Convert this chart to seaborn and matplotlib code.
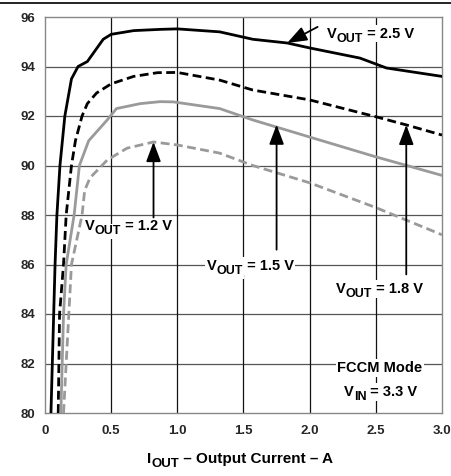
import seaborn as sns
import matplotlib.pyplot as plt
from matplotlib.lines import Line2D

# efficiency vs output current
i_25 = [0.045, 0.076, 0.09, 0.113, 0.15, 0.2, 0.25, 0.32, 0.44, 0.5, 0.67, 0.87, 1.0, 1.32, 1.57, 1.83, 2.0, 2.38, 2.58, 3.0]
eff_25 = [80, 86, 88, 90, 92, 93.5, 94.0, 94.2, 95.1, 95.3, 95.45, 95.5, 95.52, 95.4, 95.1, 94.95, 94.75, 94.34, 93.94, 93.6]

i_18 = [0.1, 0.11, 0.14, 0.16, 0.2, 0.23, 0.28, 0.32, 0.39, 0.5, 0.67, 0.85, 1.0, 1.32, 1.57, 2.0, 2.5, 2.73, 3.0]
eff_18 = [80, 84, 86, 88, 90, 91, 92, 92.5, 92.93, 93.3, 93.6, 93.75, 93.76, 93.45, 93.05, 92.65, 91.97, 91.64, 91.23]

i_15 = [0.12, 0.14, 0.16, 0.22, 0.26, 0.33, 0.39, 0.47, 0.54, 0.72, 0.87, 0.97, 1.32, 1.57, 2.0, 2.5, 3.0]
eff_15 = [80, 84, 86, 88, 90, 91, 91.36, 91.84, 92.3, 92.5, 92.58, 92.57, 92.3, 91.84, 91.15, 90.35, 89.6]

i_12 = [0.14, 0.2, 0.28, 0.3, 0.34, 0.47, 0.62, 0.82, 1.0, 1.32, 1.57, 2.0, 2.5, 3.0]
eff_12 = [80, 86, 88, 89, 89.5, 90.22, 90.7, 90.95, 90.83, 90.5, 90.0, 89.3, 88.3, 87.2]

x_ticks = [0, 0.5, 1.0, 1.5, 2.0, 2.5, 3.0]
x_labels = ['0', '0.5', '1.0', '1.5', '2.0', '2.5', '3.0']
y_ticks = [80, 82, 84, 86, 88, 90, 92, 94, 96]

sns.set_style('white')
plt.rcParams['font.family'] = ['Liberation Sans', 'DejaVu Sans']
plt.rcParams['font.weight'] = 'bold'

fig = plt.figure(figsize=(4.51, 4.76), dpi=100)
ax = fig.add_axes([45 / 451, 1 - 413 / 476, 397 / 451, 396 / 476])

gray = '#9a9a9a'
dash = (0, (3.2, 1.6))
sns.lineplot(x=i_25, y=eff_25, ax=ax, color='black', lw=2.0, sort=False, zorder=4)
sns.lineplot(x=i_18, y=eff_18, ax=ax, color='black', lw=2.0, sort=False, zorder=4, linestyle=dash)
sns.lineplot(x=i_15, y=eff_15, ax=ax, color=gray, lw=2.0, sort=False, zorder=4)
sns.lineplot(x=i_12, y=eff_12, ax=ax, color=gray, lw=2.0, sort=False, zorder=4, linestyle=dash)

ax.set_xlim(0, 3.0)
ax.set_ylim(80, 96)
ax.set_xticks(x_ticks)
ax.set_xticklabels(x_labels)
ax.set_yticks(y_ticks)
ax.tick_params(axis='both', labelsize=9.5, length=0)
ax.tick_params(axis='x', pad=9)
ax.tick_params(axis='y', pad=7)
for t in ax.get_xticklabels() + ax.get_yticklabels():
    t.set_fontweight('bold')

for yv in y_ticks[1:-1]:
    ax.axhline(yv, color='#555555', lw=0.9, zorder=1)
for xv in x_ticks[1:-1]:
    ax.axvline(xv, color='#111111', lw=0.9, zorder=1)
for s in ax.spines.values():
    s.set_color('#888888')
    s.set_linewidth(1.0)


def sub_label(x, y, parts, backed=True):
    # parts: list of (text, fontsize, drop in points), chained left to right.
    # first pass draws white boxes (hides grid), second pass the visible text on top
    passes = [('white', dict(facecolor='white', edgecolor='none', pad=1.2), 3),
              ('black', None, 3.5)]
    if not backed:
        passes = passes[1:]
    for color, bbox, z in passes:
        prev = None
        for txt, size, drop in parts:
            if prev is None:
                prev = ax.annotate(txt, xy=(x, y), xycoords='data', xytext=(0, -drop),
                                   textcoords='offset points', fontsize=size,
                                   fontweight='bold', color=color, ha='left',
                                   va='baseline', bbox=bbox, zorder=z,
                                   annotation_clip=False)
            else:
                prev = ax.annotate(txt, xy=(1, 0), xycoords=prev, xytext=(0, -drop),
                                   textcoords='offset points', fontsize=size,
                                   fontweight='bold', color=color, ha='left',
                                   va='bottom', bbox=bbox, zorder=z,
                                   annotation_clip=False)


fs, ss = 10.5, 9
# drop values are relative to the previous piece
sub_label(2.13, 95.16, [('V', fs, 0), ('OUT', ss, 3), (' = 2.5 V', fs, -3)])
sub_label(0.30, 87.39, [('V', fs, 0), ('OUT', ss, 3), (' = 1.2 V', fs, -3)])
sub_label(1.22, 85.78, [('V', fs, 0), ('OUT', ss, 3), (' = 1.5 V', fs, -3)])
sub_label(2.20, 84.85, [('V', fs, 0), ('OUT', ss, 3), (' = 1.8 V', fs, -3)])
sub_label(2.21, 81.66, [('FCCM Mode', fs, 0)])
sub_label(2.26, 80.69, [('V', fs, 0), ('IN', ss, 3), (' = 3.3 V', fs, -3)])

# x axis title with a large subscript
sub_label(0.77, 77.98, [('I', 11, 0), ('OUT', 9.5, 3), (' – Output Current – A', 11, -3)],
          backed=False)

arrow = dict(arrowstyle='-|>,head_length=1.2,head_width=0.45', color='black', lw=1.3,
             shrinkA=0, shrinkB=0)
ax.annotate('', xy=(1.83, 94.95), xytext=(2.06, 95.6), arrowprops=arrow, zorder=5)
ax.annotate('', xy=(0.82, 90.95), xytext=(0.82, 87.9), arrowprops=arrow, zorder=5)
ax.annotate('', xy=(1.75, 91.65), xytext=(1.75, 86.6), arrowprops=arrow, zorder=5)
ax.annotate('', xy=(2.73, 91.64), xytext=(2.73, 85.6), arrowprops=arrow, zorder=5)

# thin rule along the top of the figure
fig.add_artist(Line2D([0, 1], [1 - 3 / 476, 1 - 3 / 476], color='black', lw=1.2))

fig.savefig('out.png', dpi=100)
